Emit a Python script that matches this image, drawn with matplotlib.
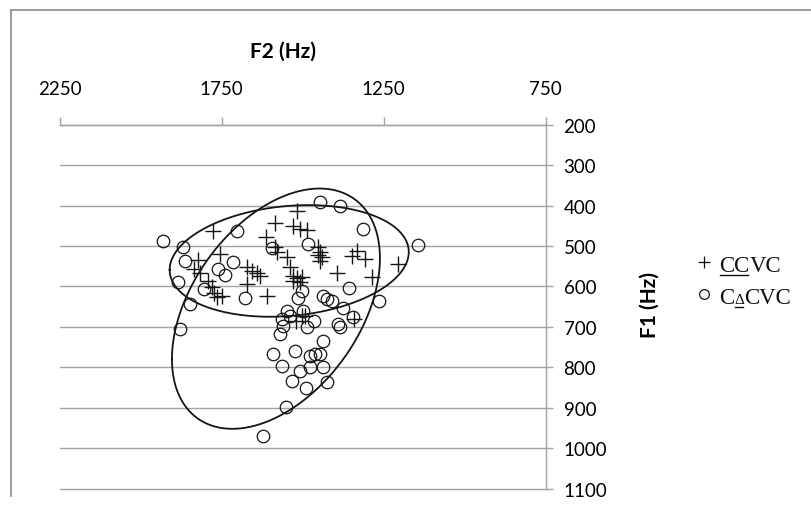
import numpy as np
import matplotlib.pyplot as plt
from matplotlib.lines import Line2D

plt.rcParams['font.family'] = ['Lato', 'DejaVu Sans']

# F2 / F1 values (Hz)
ccvc_f2 = [1775, 1585, 1518, 1528, 1507, 1486, 1612, 1585, 1578, 1754, 1821, 1835,
           1816, 1791, 1780, 1773, 1764, 1749, 1672, 1657, 1641, 1631, 1672, 1610,
           1549, 1538, 1528, 1517, 1502, 1528, 1507, 1451, 1446, 1440, 1446, 1451,
           1394, 1332, 1348, 1307, 1285, 1204, 1502, 1492, 1520, 1341]
ccvc_f1 = [462, 442, 414, 451, 458, 461, 479, 503, 514, 520, 535, 557,
           567, 587, 602, 616, 626, 624, 553, 561, 567, 574, 594, 623,
           527, 553, 574, 579, 577, 587, 589, 503, 516, 528, 537, 522,
           567, 512, 524, 532, 577, 545, 673, 672, 685, 681]

cdcvc_f2 = [1930, 1870, 1862, 1883, 1847, 1878, 1702, 1715, 1761, 1739, 1804, 1677,
            1446, 1384, 1482, 1594, 1314, 1142, 1355, 1501, 1515, 1436, 1425, 1410,
            1263, 1374, 1497, 1343, 1389, 1384, 1466, 1487, 1436, 1523, 1477, 1461,
            1446, 1549, 1538, 1564, 1559, 1569, 1590, 1564, 1533, 1489, 1425, 1507,
            1477, 1437, 1551, 1621]
cdcvc_f1 = [487, 503, 536, 590, 644, 705, 462, 540, 556, 572, 606, 629,
            391, 402, 495, 505, 458, 497, 605, 611, 629, 623, 631, 635,
            637, 654, 660, 676, 693, 701, 685, 701, 734, 759, 771, 767,
            767, 660, 672, 681, 697, 718, 767, 796, 833, 852, 837, 808,
            800, 800, 897, 969]

# ellipses: centre, half-extent along F2 / F1, correlation
ell_cx = [1541, 1582]
ell_cy = [537, 655]
ell_rx = [369, 321]
ell_ry = [138, 297]
ell_rho = [0.16, 0.42]

f2_ticks = [2250, 1750, 1250, 750]
f1_ticks = [200, 300, 400, 500, 600, 700, 800, 900, 1000, 1100]

W, H = 811, 510
fig = plt.figure(figsize=(W / 100, H / 100), dpi=100)
ax = fig.add_axes([59.5 / W, 1 - 489.7 / H, 486 / W, 364.1 / H])
ax.set_xlim(2250, 750)
ax.set_ylim(1100, 200)
ax.xaxis.tick_top()
ax.yaxis.tick_right()
ax.set_xticks(f2_ticks)
ax.set_yticks(f1_ticks)
gray = '#a3a3a3'
for s in ['left', 'bottom']:
    ax.spines[s].set_visible(False)
for s in ['top', 'right']:
    ax.spines[s].set_color(gray)
    ax.spines[s].set_linewidth(1.0)
ax.tick_params(axis='x', direction='out', length=6, width=1, color=gray, pad=14, labelsize=13.5)
ax.tick_params(axis='y', direction='out', length=5, width=1, color=gray, pad=8, labelsize=13.5)
ax.yaxis.grid(True, color=gray, lw=1.0)
for gl in ax.get_ygridlines():
    gl.set_clip_on(False)
ax.set_axisbelow(True)

ink = '#151515'
t = np.linspace(0, 2 * np.pi, 400)
for cx, cy, rx, ry, rho in zip(ell_cx, ell_cy, ell_rx, ell_ry, ell_rho):
    x = cx + rx * np.cos(t)
    y = cy + ry * (rho * np.cos(t) + np.sqrt(1 - rho ** 2) * np.sin(t))
    ax.plot(x, y, color=ink, lw=1.3)

ax.plot(cdcvc_f2, cdcvc_f1, ls='none', marker='o', ms=9, mfc='none', mec=ink, mew=0.9)
ax.plot(ccvc_f2, ccvc_f1, ls='none', marker='+', ms=12, mew=1.0, color=ink)

fig.text(283 / W, 1 - 52 / H, 'F2 (Hz)', fontsize=15, fontweight='bold', ha='center', va='center')
fig.text(650 / W, 1 - 305 / H, 'F1 (Hz)', fontsize=15, fontweight='bold', rotation=90,
         ha='center', va='center')

# legend, written as text runs
r = fig.canvas.get_renderer()


def put_run(x_px, y_px, pieces):
    x = x_px
    for s, size, ul in pieces:
        tx = fig.text(x / W, 1 - y_px / H, s, fontsize=size, family='Liberation Serif',
                      ha='left', va='baseline', color='#111111')
        bb = tx.get_window_extent(r)
        if ul:
            fig.add_artist(Line2D([(bb.x0 + 1) / W, (bb.x1 - 1) / W],
                                  [1 - (y_px + 4) / H] * 2, transform=fig.transFigure,
                                  color='#111111', lw=1.0))
        x = bb.x1


fig.add_artist(Line2D([703.5 / W], [1 - 263 / H], transform=fig.transFigure, marker='+',
                      ms=8, mew=0.9, color='#111111', ls='none'))
fig.add_artist(Line2D([703.5 / W], [1 - 295 / H], transform=fig.transFigure, marker='o',
                      ms=7, mew=0.9, mfc='none', mec='#111111', ls='none'))
put_run(719, 271.5, [('CC', 16.5, True), ('VC', 16.5, False)])
put_run(719, 303.5, [('C', 16.5, False), ('Δ', 11, True), ('CVC', 16.5, False)])

# outer frame
fig.add_artist(Line2D([10.5 / W, 10.5 / W], [1 - 497 / H, 1 - 10.5 / H],
                      transform=fig.transFigure, color='#8a8a8a', lw=1.2))
fig.add_artist(Line2D([10.5 / W, 1.0], [1 - 10.5 / H, 1 - 10.5 / H],
                      transform=fig.transFigure, color='#8a8a8a', lw=1.2))

fig.savefig('out.png', dpi=100)
